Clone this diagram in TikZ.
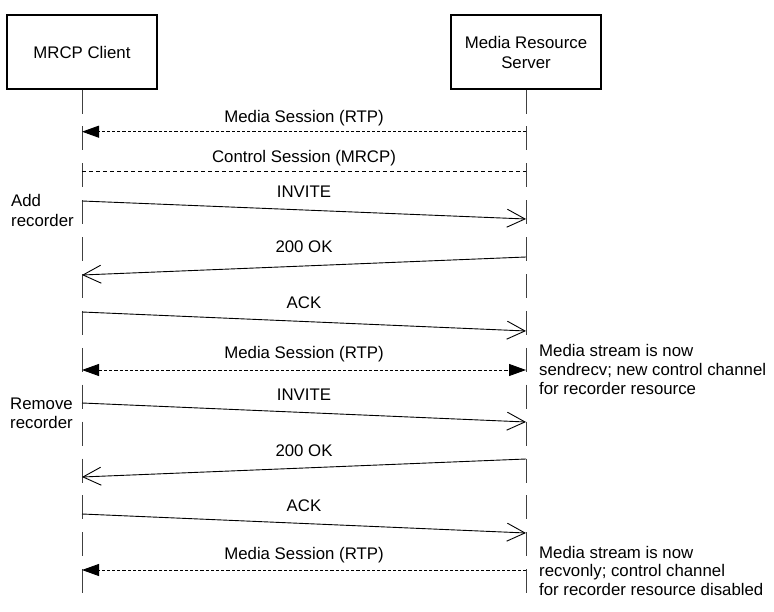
\documentclass[tikz,border=0pt]{standalone}
\usepackage{fontspec}
\setmainfont{Liberation Sans}
\usetikzlibrary{arrows.meta}
\begin{document}
\begin{tikzpicture}[x=1pt,y=-1pt,
  font=\fontsize{16.8}{20}\selectfont,
  actor/.style={draw, line width=1.1pt, minimum width=150pt, minimum height=74pt, align=center, inner sep=0pt},
  lifeline/.style={draw=black!75, line width=0.9pt, dash pattern=on 24pt off 12.9pt},
  msg/.style={line width=0.9pt, -{Straight Barb[length=18pt,width=18pt,line width=0.9pt]}},
  rtp/.style={line width=0.9pt, dash pattern=on 3.2pt off 2pt},
  ctrl/.style={line width=0.8pt, dash pattern=on 4pt off 3pt},
  tri/.tip={Triangle[length=17pt,width=12pt]},
  lbl/.style={anchor=base, inner sep=0pt},
  note/.style={anchor=base west, inner sep=0pt}]
\useasboundingbox (0,0) rectangle (774,612);
% actors
\node[actor] (client) at (82,52) {MRCP Client};
\node[actor] (server) at (526,52) {Media Resource\\Server};
\coordinate (clientend) at (82,594);
\coordinate (serverend) at (526,594);
\draw[lifeline] (client.south) -- (clientend);
\draw[lifeline] (server.south) -- (serverend);
% message end points
\coordinate (c1) at (82,131.7);  \coordinate (s1) at (526,131.7);
\coordinate (c2) at (82,171);    \coordinate (s2) at (526,171);
\coordinate (c3) at (82,201);    \coordinate (s3) at (526,219);
\coordinate (c4) at (82,275);    \coordinate (s4) at (526,257);
\coordinate (c5) at (82,312);    \coordinate (s5) at (526,331);
\coordinate (c6) at (82,370);    \coordinate (s6) at (526,370);
\coordinate (c7) at (82,403);    \coordinate (s7) at (526,422);
\coordinate (c8) at (82,477);    \coordinate (s8) at (526,459);
\coordinate (c9) at (82,514);    \coordinate (s9) at (526,533);
\coordinate (c10) at (82,570);   \coordinate (s10) at (526,570);
% messages
\draw[rtp, -tri] (s1) -- (c1);
\draw[ctrl] (c2) -- (s2);
\draw[msg] (c3) -- (s3);
\draw[msg] (s4) -- (c4);
\draw[msg] (c5) -- (s5);
\draw[rtp, tri-tri] (c6) -- (s6);
\draw[msg] (c7) -- (s7);
\draw[msg] (s8) -- (c8);
\draw[msg] (c9) -- (s9);
\draw[rtp, -tri] (s10) -- (c10);
% labels
\node[lbl] (l1) at (304,123) {Media Session (RTP)};
\node[lbl] (l2) at (304,163) {Control Session (MRCP)};
\node[lbl] (l3) at (304,198) {INVITE};
\node[lbl] (l4) at (304,253) {200 OK};
\node[lbl] (l5) at (304,309) {ACK};
\node[lbl] (l6) at (304,359) {Media Session (RTP)};
\node[lbl] (l7) at (304,400) {INVITE};
\node[lbl] (l8) at (304,456) {200 OK};
\node[lbl] (l9) at (304,511) {ACK};
\node[lbl] (l10) at (304,559) {Media Session (RTP)};
% side texts
\node[note] (add1) at (11,207) {Add};
\node[note] (add2) at (11,227) {recorder};
\node[note] (rem1) at (10,409) {Remove};
\node[note] (rem2) at (10,428) {recorder};
\node[note] (n1a) at (539,356) {Media stream is now};
\node[note] (n1b) at (539,375) {sendrecv; new control channel};
\node[note] (n1c) at (539,394) {for recorder resource};
\node[note] (n2a) at (539,558) {Media stream is now};
\node[note] (n2b) at (539,576) {recvonly; control channel};
\node[note] (n2c) at (539,595) {for recorder resource disabled};
\end{tikzpicture}
\end{document}
